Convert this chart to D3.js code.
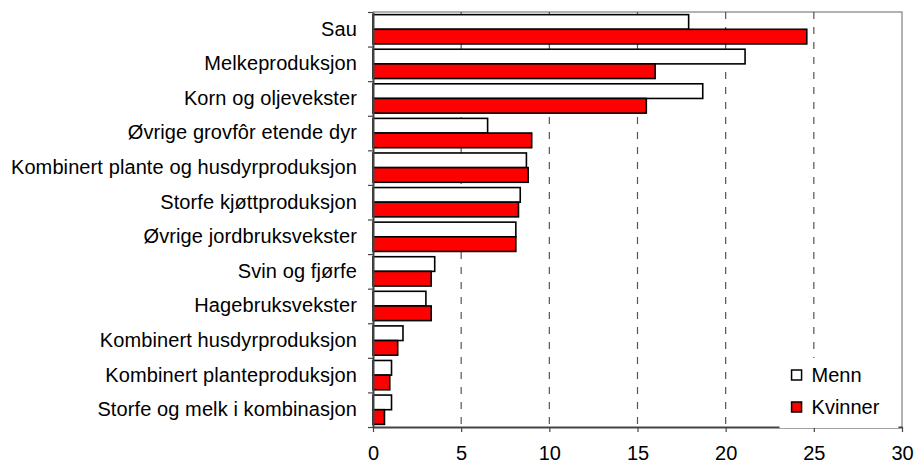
<!DOCTYPE html>
<html>
<head>
<meta charset="utf-8">
<script src="https://cdn.jsdelivr.net/npm/d3@7"></script>
<style>
  body { margin: 0; background: #fff; }
  svg { display: block; }
  text { font-family: "Liberation Sans", Arial, sans-serif; }
</style>
</head>
<body>
<div id="chart"></div>
<script>
// data
var categories = [
  "Sau",
  "Melkeproduksjon",
  "Korn og oljevekster",
  "Øvrige grovfôr etende dyr",
  "Kombinert plante og husdyrproduksjon",
  "Storfe kjøttproduksjon",
  "Øvrige jordbruksvekster",
  "Svin og fjørfe",
  "Hagebruksvekster",
  "Kombinert husdyrproduksjon",
  "Kombinert planteproduksjon",
  "Storfe og melk i kombinasjon"
];
var menn    = [17.9, 21.1, 18.7, 6.5, 8.7, 8.35, 8.1, 3.5, 3.0, 1.7, 1.05, 1.05];
var kvinner = [24.6, 16.0, 15.5, 9.0, 8.8, 8.25, 8.1, 3.3, 3.3, 1.4, 0.95, 0.65];
var seriesNames = ["Menn", "Kvinner"];
var seriesColors = ["#ffffff", "#ff0000"];
var xTicks = [0, 5, 10, 15, 20, 25, 30];

var W = 914, H = 464;
var margin = {top: 12, right: 12, bottom: 37, left: 373};
var width = W - margin.left - margin.right,
    height = H - margin.top - margin.bottom;

var svg = d3.select("#chart")
  .append("svg")
    .attr("width", W)
    .attr("height", H)
  .append("g")
    .attr("transform", "translate(" + margin.left + "," + margin.top + ")");

var x = d3.scaleLinear()
  .domain([0, 30])
  .range([0, width]);

var y = d3.scaleBand()
  .domain(categories)
  .range([0, height]);

var ySub = d3.scaleBand()
  .domain(seriesNames)
  .range([0, y.bandwidth()])
  .paddingOuter(0.18)
  .paddingInner(0);

// boundary ticks on the category axis
var yIdx = d3.scaleLinear().domain([0, categories.length]).range([0, height]);

// plot frame (top + right)
svg.append("path")
  .attr("d", "M0,0H" + width + "V" + height)
  .attr("fill", "none")
  .attr("stroke", "#999")
  .attr("stroke-width", 1.5);

// dashed gridlines
svg.append("g")
  .selectAll("line")
  .data(xTicks.filter(function(d) { return d > 0 && d < 30; }))
  .enter()
  .append("line")
    .attr("x1", function(d) { return x(d); })
    .attr("x2", function(d) { return x(d); })
    .attr("y1", 0)
    .attr("y2", height)
    .attr("stroke", "#555")
    .attr("stroke-width", 1.2)
    .attr("stroke-dasharray", "7,8");

// bars
var data = categories.map(function(c, i) {
  return {cat: c, values: [menn[i], kvinner[i]]};
});

var groups = svg.selectAll(".grp")
  .data(data)
  .enter()
  .append("g")
    .attr("transform", function(d) { return "translate(0," + y(d.cat) + ")"; });

groups.selectAll("rect")
  .data(function(d) {
    return d.values.map(function(v, j) { return {name: seriesNames[j], value: v, color: seriesColors[j]}; });
  })
  .enter()
  .append("rect")
    .attr("x", x(0))
    .attr("y", function(d) { return ySub(d.name); })
    .attr("width", function(d) { return x(d.value) - x(0); })
    .attr("height", ySub.bandwidth())
    .attr("fill", function(d) { return d.color; })
    .attr("stroke", "#000")
    .attr("stroke-width", 1.6);

// x axis
var xAxis = svg.append("g")
  .attr("transform", "translate(0," + height + ")")
  .call(d3.axisBottom(x).tickValues(xTicks).tickSize(5).tickSizeOuter(0).tickPadding(14));
xAxis.select(".domain").attr("stroke", "#444").attr("stroke-width", 2);
xAxis.selectAll(".tick line").attr("stroke", "#444").attr("stroke-width", 1.2);
xAxis.selectAll("text").style("font-size", "20px").attr("fill", "#000");

// y axis: labels
var yAxis = svg.append("g")
  .call(d3.axisLeft(y).tickSize(0).tickPadding(16));
yAxis.select(".domain").remove();
yAxis.selectAll("text")
  .style("font-size", "20px")
  .style("letter-spacing", "0.1px")
  .attr("fill", "#000");

// y axis: line with boundary ticks
var yLine = svg.append("g")
  .call(d3.axisLeft(yIdx).tickValues(d3.range(categories.length + 1)).tickFormat("").tickSize(5).tickSizeOuter(0));
yLine.select(".domain").attr("stroke", "#444").attr("stroke-width", 2);
yLine.selectAll(".tick line").attr("stroke", "#444").attr("stroke-width", 1.2);

// legend
var legend = svg.append("g")
  .attr("transform", "translate(" + (x(23) + 1) + "," + (height - 69) + ")");

legend.append("rect")
  .attr("width", x(29.8) - x(23) - 1)
  .attr("height", 70)
  .attr("fill", "#fff");

var items = legend.selectAll(".item")
  .data(seriesNames)
  .enter()
  .append("g")
    .attr("transform", function(d, i) { return "translate(12," + (17 + i * 32) + ")"; });

items.append("rect")
  .attr("x", 0)
  .attr("y", -5)
  .attr("width", 10)
  .attr("height", 10)
  .attr("fill", function(d, i) { return seriesColors[i]; })
  .attr("stroke", "#000")
  .attr("stroke-width", 1.5);

items.append("text")
  .attr("x", 20)
  .attr("y", 7)
  .style("font-size", "20px")
  .text(function(d) { return d; });
</script>
</body>
</html>
